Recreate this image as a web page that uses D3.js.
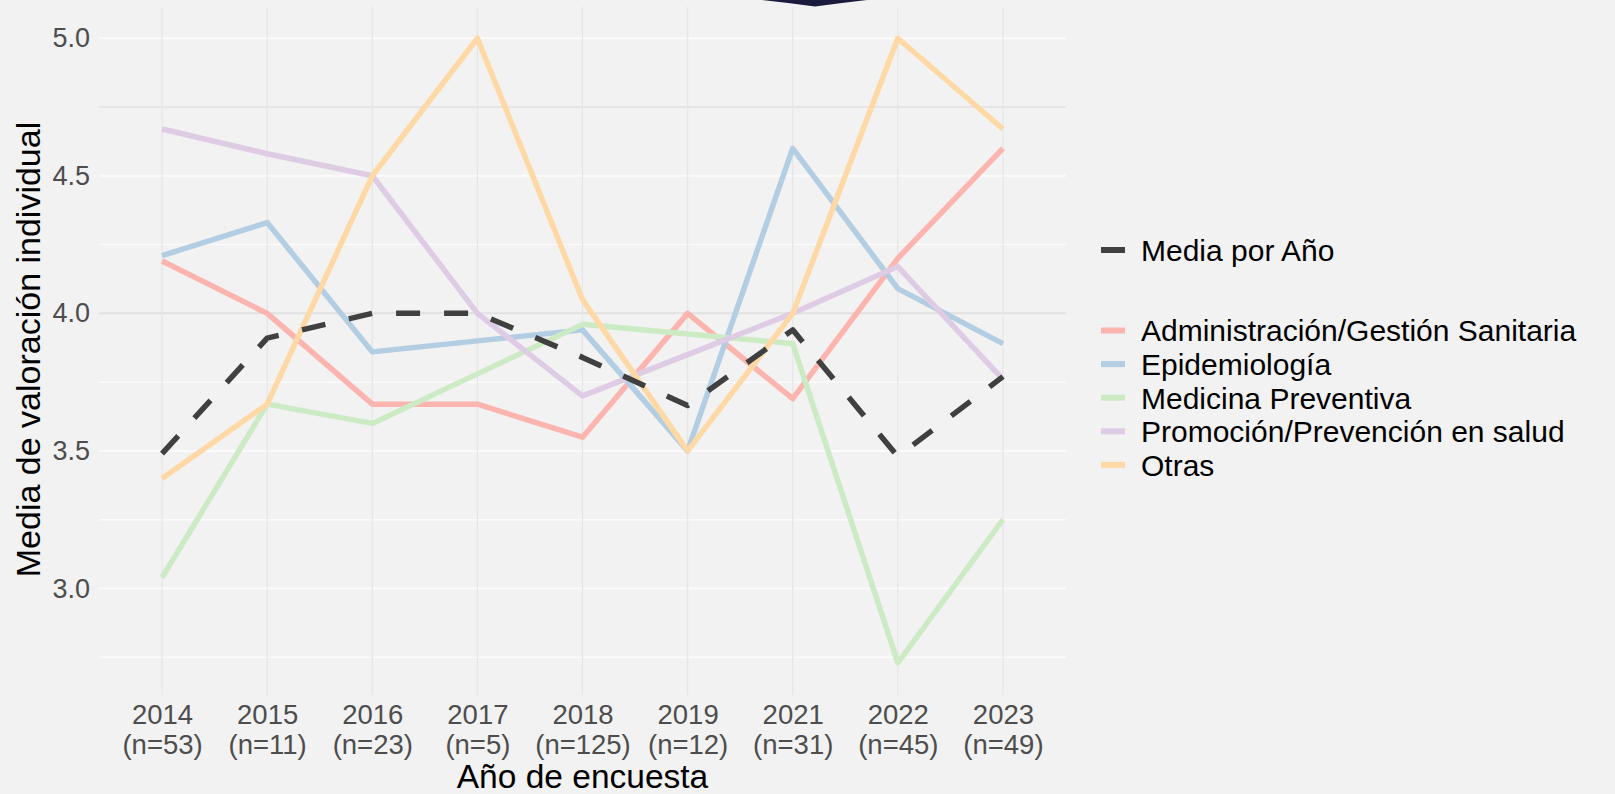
<!DOCTYPE html>
<html>
<head>
<meta charset="utf-8">
<script src="https://cdn.jsdelivr.net/npm/d3@7"></script>
<style>
  html, body { margin: 0; padding: 0; background: #f2f2f2; }
  svg { display: block; font-family: "Liberation Sans", Arial, sans-serif; }
</style>
</head>
<body>
<svg id="chart" width="1615" height="794"></svg>
<script>
// ---------------- data ----------------
const years = ["2014", "2015", "2016", "2017", "2018", "2019", "2021", "2022", "2023"];
const nLabels = ["(n=53)", "(n=11)", "(n=23)", "(n=5)", "(n=125)", "(n=12)", "(n=31)", "(n=45)", "(n=49)"];
const mediaPorAno = [3.49, 3.91, 4.0, 4.0, 3.84, 3.665, 3.94, 3.48, 3.77];
const administracion = [4.19, 4.0, 3.67, 3.67, 3.55, 4.0, 3.69, 4.2, 4.6];
const epidemiologia = [4.21, 4.33, 3.86, 3.9, 3.94, 3.5, 4.6, 4.09, 3.89];
const medicinaPreventiva = [3.04, 3.67, 3.6, 3.78, 3.96, 3.925, 3.89, 2.73, 3.25];
const promocion = [4.67, 4.58, 4.5, 4.0, 3.7, 3.85, 4.0, 4.17, 3.76];
const otras = [3.4, 3.67, 4.5, 5.0, 4.05, 3.5, 4.0, 5.0, 4.67];
const seriesNames = ["Administración/Gestión Sanitaria", "Epidemiología", "Medicina Preventiva", "Promoción/Prevención en salud", "Otras"];
const seriesColors = ["#FBB4AE", "#B3CDE3", "#CCEBC5", "#DECBE4", "#FED9A6"];
const meanName = "Media por Año";
const yMajorTicks = [3.0, 3.5, 4.0, 4.5, 5.0];
const yMinorTicks = [2.75, 3.25, 3.75, 4.25, 4.75];
const xTitle = "Año de encuesta";
const yTitle = "Media de valoración individual";

const seriesValues = [administracion, epidemiologia, medicinaPreventiva, promocion, otras];

// ---------------- layout ----------------
const svg = d3.select("#chart");
const panel = { left: 99, right: 1066, top: 7, bottom: 694 };

const allVals = seriesValues.flat().concat(mediaPorAno);
const [vmin, vmax] = d3.extent(allVals);
const pad = (vmax - vmin) * 0.05;

const x = d3.scalePoint().domain(years).range([panel.left, panel.right]).padding(0.6);
const y = d3.scaleLinear().domain([vmin - pad, vmax + pad]).range([panel.bottom, panel.top]);

// navy tab at top
svg.append("path")
  .attr("d", "M762,0 L867,0 L842,3 L815,6.5 L788,3 Z")
  .attr("fill", "#1b1b3d");

// grid
const grid = svg.append("g");
const greyLines = [4.0, 4.75];
grid.selectAll("line.h")
  .data(yMajorTicks.concat(yMinorTicks))
  .join("line")
  .attr("x1", panel.left).attr("x2", panel.right)
  .attr("y1", d => y(d)).attr("y2", d => y(d))
  .attr("stroke", d => greyLines.includes(d) ? "#e1e1e1" : "#fbfbfb")
  .attr("stroke-width", d => yMajorTicks.includes(d) ? 2 : 1.5);
grid.selectAll("line.v")
  .data(years)
  .join("line")
  .attr("x1", d => x(d)).attr("x2", d => x(d))
  .attr("y1", panel.top).attr("y2", panel.bottom + 1)
  .attr("stroke", "#e6e6e6")
  .attr("stroke-width", 1.3);

// axes (text only, like ggplot theme_minimal)
const yAxis = d3.axisLeft(y).tickValues(yMajorTicks).tickFormat(d3.format(".1f")).tickSize(0).tickPadding(9);
const gy = svg.append("g").attr("transform", `translate(${panel.left},0)`).call(yAxis);
gy.select(".domain").remove();
gy.selectAll("text").attr("font-size", 27).attr("fill", "#4d4d4d")
  .attr("font-family", "Liberation Sans, Arial, sans-serif");

const xAxis = d3.axisBottom(x).tickSize(0).tickFormat(() => "");
const gx = svg.append("g").attr("transform", `translate(0,${panel.bottom})`).call(xAxis);
gx.select(".domain").remove();
gx.selectAll(".tick text").remove();
gx.selectAll(".tick").each(function(d, i) {
  const t = d3.select(this).append("text")
    .attr("text-anchor", "middle")
    .attr("font-size", 27.5)
    .attr("fill", "#4d4d4d")
    .attr("font-family", "Liberation Sans, Arial, sans-serif");
  t.append("tspan").attr("x", 0).attr("y", 30).text(years[i]);
  t.append("tspan").attr("x", 0).attr("y", 60).text(nLabels[i]);
});

// titles
svg.append("text")
  .attr("x", (panel.left + panel.right) / 2)
  .attr("y", 788)
  .attr("text-anchor", "middle")
  .attr("font-size", 33.5)
  .attr("fill", "#000")
  .text(xTitle);
svg.append("text")
  .attr("transform", `translate(40,${(panel.top + panel.bottom) / 2 - 1}) rotate(-90)`)
  .attr("text-anchor", "middle")
  .attr("font-size", 34)
  .attr("fill", "#000")
  .text(yTitle);

// lines
const line = d3.line().x((d, i) => x(years[i])).y(d => y(d));
const lines = svg.append("g");
seriesValues.forEach((vals, k) => {
  lines.append("path")
    .attr("d", line(vals))
    .attr("fill", "none")
    .attr("stroke", seriesColors[k])
    .attr("stroke-width", 5.5)
    .attr("stroke-linejoin", "round");
});
lines.append("path")
  .attr("d", line(mediaPorAno))
  .attr("fill", "none")
  .attr("stroke", "#404040")
  .attr("stroke-width", 5.5)
  .attr("stroke-dasharray", "24,24")
  .attr("stroke-linejoin", "round");

// legend
const legend = svg.append("g");
const keyX1 = 1101, keyX2 = 1125, textX = 1141;
const legFont = 30;
legend.append("line")
  .attr("x1", keyX1).attr("x2", keyX2).attr("y1", 250).attr("y2", 250)
  .attr("stroke", "#404040").attr("stroke-width", 6);
legend.append("text")
  .attr("x", textX).attr("y", 250).attr("dy", "0.36em")
  .attr("font-size", legFont).attr("fill", "#000")
  .text(meanName);
const legStep = 33.6, legMid = 397.7;
seriesNames.forEach((name, k) => {
  const yy = legMid + (k - 2) * legStep;
  legend.append("line")
    .attr("x1", keyX1).attr("x2", keyX2).attr("y1", yy).attr("y2", yy)
    .attr("stroke", seriesColors[k]).attr("stroke-width", 6);
  legend.append("text")
    .attr("x", textX).attr("y", yy).attr("dy", "0.36em")
    .attr("font-size", legFont).attr("fill", "#000")
    .text(name);
});
</script>
</body>
</html>
